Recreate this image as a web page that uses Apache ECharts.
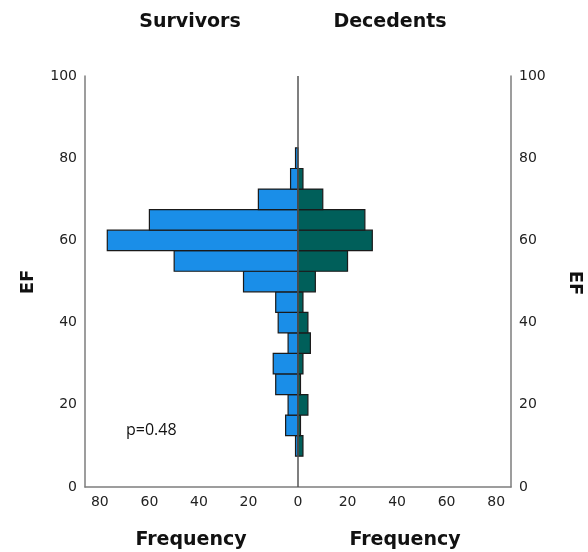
<!DOCTYPE html>
<html>
<head>
<meta charset="utf-8">
<script src="https://cdn.jsdelivr.net/npm/echarts@6/dist/echarts.min.js"></script>
<style>html,body{margin:0;padding:0;background:#fff}#c{width:588px;height:552px}</style>
</head>
<body>
<div id="c"></div>
<script>
// EF bin centres (bin width 5)
var efBins = [10, 15, 20, 25, 30, 35, 40, 45, 50, 55, 60, 65, 70, 75, 80];
var survivors = [1, 5, 4, 9, 10, 4, 8, 9, 22, 50, 77, 60, 16, 3, 1];
var decedents = [2, 1, 4, 1, 2, 5, 4, 2, 7, 20, 30, 27, 10, 2, 0];
var freqTicks = [-80, -60, -40, -20, 0, 20, 40, 60, 80];
var binWidth = 5;

var chart = echarts.init(document.getElementById('c'), null, {renderer: 'canvas'});

function makeData(vals, sign) {
  return efBins.map(function (c, i) { return [sign * vals[i], c]; });
}
function renderBar(params, api) {
  var v = api.value(0), c = api.value(1);
  if (v === 0) return null;
  var p1 = api.coord([0, c + binWidth / 2]);
  var p2 = api.coord([v, c - binWidth / 2]);
  var x = Math.min(p1[0], p2[0]), y = Math.min(p1[1], p2[1]);
  return {
    type: 'rect',
    shape: {x: x, y: y, width: Math.abs(p2[0] - p1[0]), height: Math.abs(p2[1] - p1[1])},
    style: {fill: api.visual('color'), stroke: '#1a1a1a', lineWidth: 1.2}
  };
}

var gray = '#7d7d7d';
var tickFont = {color: '#222', fontFamily: 'DejaVu Sans', fontSize: 14};

chart.setOption({
  animation: false,
  grid: {left: 85, right: 77, top: 76, bottom: 65},
  xAxis: {
    type: 'value', min: -86, max: 86,
    axisLine: {show: true, onZero: false, lineStyle: {color: gray, width: 1.5}},
    axisTick: {show: false},
    splitLine: {show: false},
    axisLabel: Object.assign({margin: 8, customValues: freqTicks,
      formatter: function (v) { return String(Math.abs(v)); }}, tickFont)
  },
  yAxis: [
    {type: 'value', min: 0, max: 100, interval: 20, position: 'left',
      axisLine: {show: true, onZero: false, lineStyle: {color: gray, width: 1.5}},
      axisTick: {show: false}, splitLine: {show: false},
      axisLabel: Object.assign({margin: 8}, tickFont)},
    {type: 'value', min: 0, max: 100, interval: 20, position: 'right',
      axisLine: {show: true, onZero: false, lineStyle: {color: gray, width: 1.5}},
      axisTick: {show: false}, splitLine: {show: false},
      axisLabel: Object.assign({margin: 8}, tickFont)}
  ],
  series: [
    {type: 'custom', name: 'Survivors', renderItem: renderBar, itemStyle: {color: '#1A8EE8'},
      data: makeData(survivors, -1), encode: {x: 0, y: 1}, z: 2},
    {type: 'custom', name: 'Decedents', renderItem: renderBar, itemStyle: {color: '#005F5A'},
      data: makeData(decedents, 1), encode: {x: 0, y: 1}, z: 2,
      markLine: {silent: true, symbol: 'none', label: {show: false},
        lineStyle: {color: '#555', width: 1.5, type: 'solid'},
        data: [{xAxis: 0}]}}
  ],
  graphic: [
    {type: 'text', x: 190, y: 22, style: {text: 'Survivors', fontFamily: 'DejaVu Sans', fontWeight: 'bold', fontSize: 19, fill: '#111', align: 'center', verticalAlign: 'middle'}},
    {type: 'text', x: 390, y: 22, style: {text: 'Decedents', fontFamily: 'DejaVu Sans', fontWeight: 'bold', fontSize: 19, fill: '#111', align: 'center', verticalAlign: 'middle'}},
    {type: 'text', x: 191, y: 540, style: {text: 'Frequency', fontFamily: 'DejaVu Sans', fontWeight: 'bold', fontSize: 19, fill: '#111', align: 'center', verticalAlign: 'middle'}},
    {type: 'text', x: 405, y: 540, style: {text: 'Frequency', fontFamily: 'DejaVu Sans', fontWeight: 'bold', fontSize: 19, fill: '#111', align: 'center', verticalAlign: 'middle'}},
    {type: 'text', x: 28, y: 282, rotation: Math.PI / 2, style: {text: 'EF', fontFamily: 'DejaVu Sans', fontWeight: 'bold', fontSize: 18, fill: '#111', align: 'center', verticalAlign: 'middle'}},
    {type: 'text', x: 575, y: 283, rotation: -Math.PI / 2, style: {text: 'EF', fontFamily: 'DejaVu Sans', fontWeight: 'bold', fontSize: 18, fill: '#111', align: 'center', verticalAlign: 'middle'}},
    {type: 'text', x: 126, y: 430, style: {text: 'p=0.48', fontFamily: 'Open Sans', fontSize: 16, fill: '#111', align: 'left', verticalAlign: 'middle'}}
  ]
});
</script>
</body>
</html>
